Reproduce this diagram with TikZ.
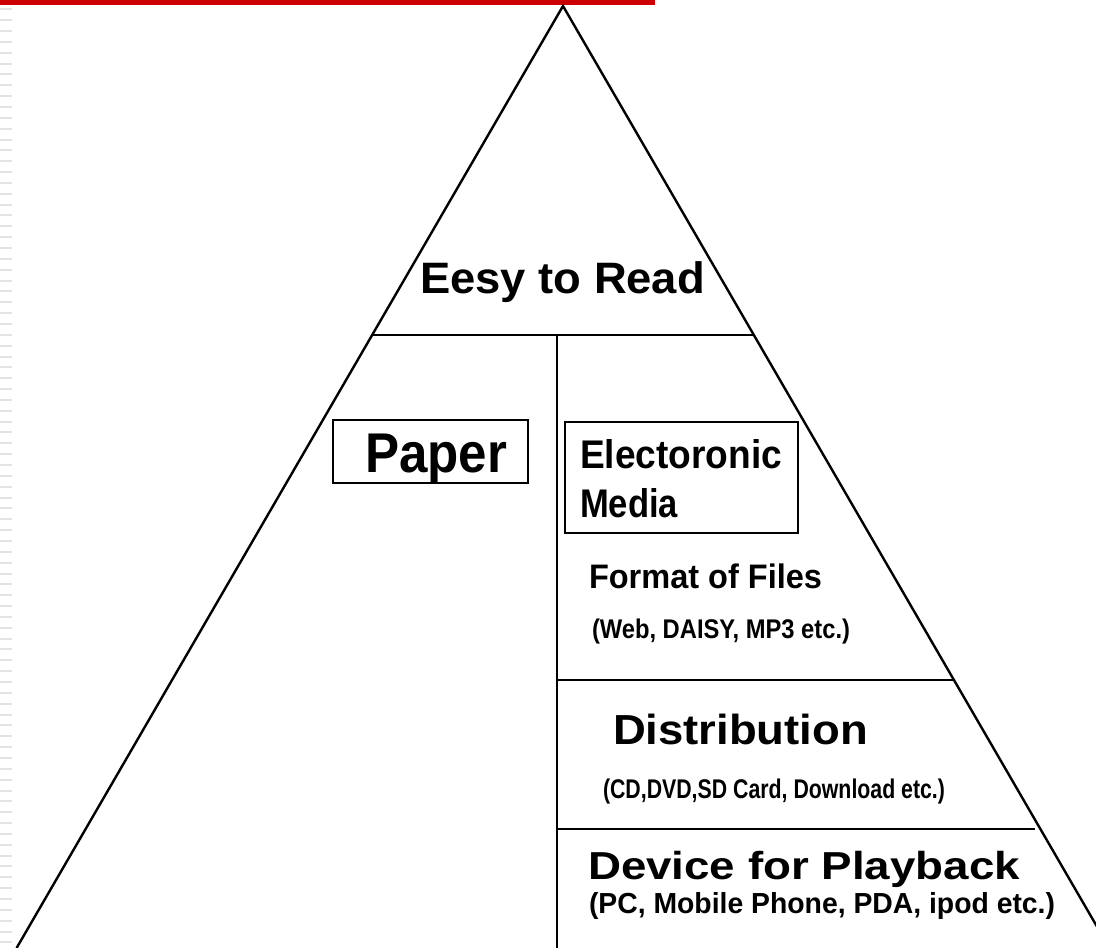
\documentclass[tikz,border=0pt]{standalone}
\usepackage{fontspec}
\setmainfont{Liberation Sans}
\usepackage{graphicx}
\newcommand\fitw[3]{\resizebox{#1pt}{\height}{\fontsize{#2}{#2}\selectfont\bfseries #3}}
\begin{document}
\begin{tikzpicture}[x=1pt,y=-1pt,line width=2.4pt,
  lbl/.style={inner sep=0pt,outer sep=0pt,anchor=base west},
  boxed/.style={draw,line width=2.4pt,inner sep=0pt,anchor=north west},
  edge/.style={draw=black,line width=2.4pt}]
\useasboundingbox (0,0) rectangle (1096,948);
\clip (0,0) rectangle (1096,948);
\fill[white] (0,0) rectangle (1096,948);
% header bar and side stripes
\fill[red!80!black] (0,0) rectangle (655,5);
\foreach \i in {0,...,86} \fill[gray!22] (0,{8.3+10.85*\i}) rectangle (12,{8.3+10.85*\i+2});
% pyramid
\coordinate (apex) at (563,6);
\coordinate (bl) at (16.6,948);
\coordinate (br) at (1109.4,948);
\draw[edge] (bl) -- (apex) -- (br);
\coordinate (t1l) at (372.2,335);
\coordinate (t1r) at (753.8,335);
\coordinate (vtop) at (557,335);
\coordinate (vbot) at (557,950);
\coordinate (h1l) at (557,680);
\coordinate (h1r) at (953.9,680);
\coordinate (h2l) at (557,829);
\coordinate (h2r) at (1035,829);
\draw[edge] (t1l) -- (t1r);
\draw[edge] (vtop) -- (vbot);
\draw[edge] (h1l) -- (h1r);
\draw[edge] (h2l) -- (h2r);
% boxes
\node[boxed,minimum width=195,minimum height=63] (paperbox) at (332,419) {};
\node[boxed,minimum width=233,minimum height=111] (elecbox) at (564,421) {};
% labels
\node[lbl] (top) at (420,293) {\fitw{285}{44}{Eesy to Read}};
\node[lbl] (paper) at (365,472) {\fitw{142}{56}{Paper}};
\node[lbl] (elec1) at (580,468) {\fitw{202}{40}{Electoronic}};
\node[lbl] (elec2) at (580,517) {\fitw{98}{40}{Media}};
\node[lbl] (fmt) at (589,588) {\fitw{233}{34}{Format of Files}};
\node[lbl] (fmtsub) at (592,638) {\fitw{258}{27}{(Web, DAISY, MP3 etc.)}};
\node[lbl] (dist) at (613,744) {\fitw{255}{42}{Distribution}};
\node[lbl] (distsub) at (603,798) {\fitw{342}{27}{(CD,DVD,SD Card, Download etc.)}};
\node[lbl] (dev) at (588,879) {\fitw{432}{39}{Device for Playback}};
\node[lbl] (devsub) at (589,913) {\fitw{466}{29}{(PC, Mobile Phone, PDA, ipod etc.)}};
\end{tikzpicture}
\end{document}
